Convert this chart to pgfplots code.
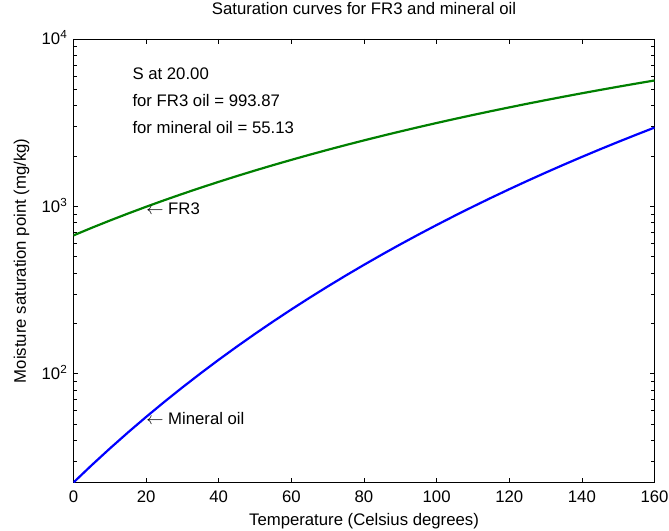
\documentclass[border=0pt]{standalone}
\usepackage{fontspec}
\setmainfont{Liberation Sans}
\usepackage{pgfplots}
\pgfplotsset{compat=1.18}
\definecolor{fgreen}{rgb}{0,0.5,0}

\begin{document}
\fontsize{16.8}{20}\selectfont
\begin{tikzpicture}
\begin{axis}[
    scale only axis,
    width=581bp, height=443.5bp,
    ymode=log,
    xmin=0, xmax=160,
    ymin=22.36, ymax=10000,
    xtick={0,20,...,160},
    ytick={100,1000,10000},
    yticklabels={10\textsuperscript{2},10\textsuperscript{3},10\textsuperscript{4}},
    minor ytick={30,40,...,90,200,300,...,900,2000,3000,...,9000},
    /pgf/number format/assume math mode=true,
    xticklabel style={anchor=base, inner sep=0pt, yshift=-20.2bp},
    yticklabel style={anchor=base east, inner sep=0pt, xshift=-6bp, yshift=-6bp},
    major tick length=5bp, minor tick length=3.5bp,
    tick style={black, line width=0.6bp},
    axis line style={line width=0.8bp},
    tick align=inside,
  ]
  \coordinate (bl) at (rel axis cs:0,0);
  % FR3 oil
  \addplot[fgreen, line width=2.2bp] coordinates {
    (0,670.3) (5,743.7) (10,821.9) (15,905.3) (20,993.9) (25,1087.7)
    (30,1186.8) (35,1291.3) (40,1401.2) (45,1516.6) (50,1637.4) (55,1763.7)
    (60,1895.6) (65,2033.0) (70,2175.9) (75,2324.3) (80,2478.1) (85,2637.5)
    (90,2802.2) (95,2972.4) (100,3147.9) (105,3328.7) (110,3514.8) (115,3706.1)
    (120,3902.5) (125,4104.0) (130,4310.5) (135,4522.0) (140,4738.3) (145,4959.5)
    (150,5185.4) (155,5415.9) (160,5651.0)};
  % mineral oil
  \addplot[blue, line width=2.2bp] coordinates {
    (0,22.365) (5,28.367) (10,35.678) (15,44.517) (20,55.13) (25,67.781)
    (30,82.772) (35,100.42) (40,121.09) (45,145.15) (50,173.02) (55,205.15)
    (60,241.99) (65,284.06) (70,331.88) (75,386.03) (80,447.10) (85,515.71)
    (90,592.51) (95,678.19) (100,773.44) (105,879.02) (110,995.67) (115,1124.2)
    (120,1265.4) (125,1420.1) (130,1589.1) (135,1773.4) (140,1973.8) (145,2191.3)
    (150,2426.7) (155,2680.9) (160,2955.0)};
  \node[anchor=base west, inner sep=0pt] at (axis cs:16.2,5761) {S at 20.00};
  \node[anchor=base west, inner sep=0pt] at (axis cs:16.2,3971) {for FR3 oil = 993.87};
  \node[anchor=base west, inner sep=0pt] at (axis cs:16.2,2736) {for mineral oil = 55.13};
  \node[anchor=west, inner sep=0pt, yshift=-2bp] at (axis cs:20,993.87) {$\leftarrow$ FR3};
  \node[anchor=west, inner sep=0pt, yshift=-2bp] at (axis cs:20,55.13) {$\leftarrow$ Mineral oil};
\end{axis}
\node[anchor=base] at ([xshift=290.5bp, yshift=467.5bp]bl) {Saturation curves for FR3 and mineral oil};
\node[anchor=base] at ([xshift=290.5bp, yshift=-42.5bp]bl) {Temperature (Celsius degrees)};
\node[anchor=base, rotate=90] at ([xshift=-47.5bp, yshift=221.75bp]bl) {Moisture saturation point (mg/kg)};
\pgfresetboundingbox
\path (bl) ++(-73.5bp,-48.5bp) rectangle ++(669bp,531bp);
\end{tikzpicture}
\end{document}
